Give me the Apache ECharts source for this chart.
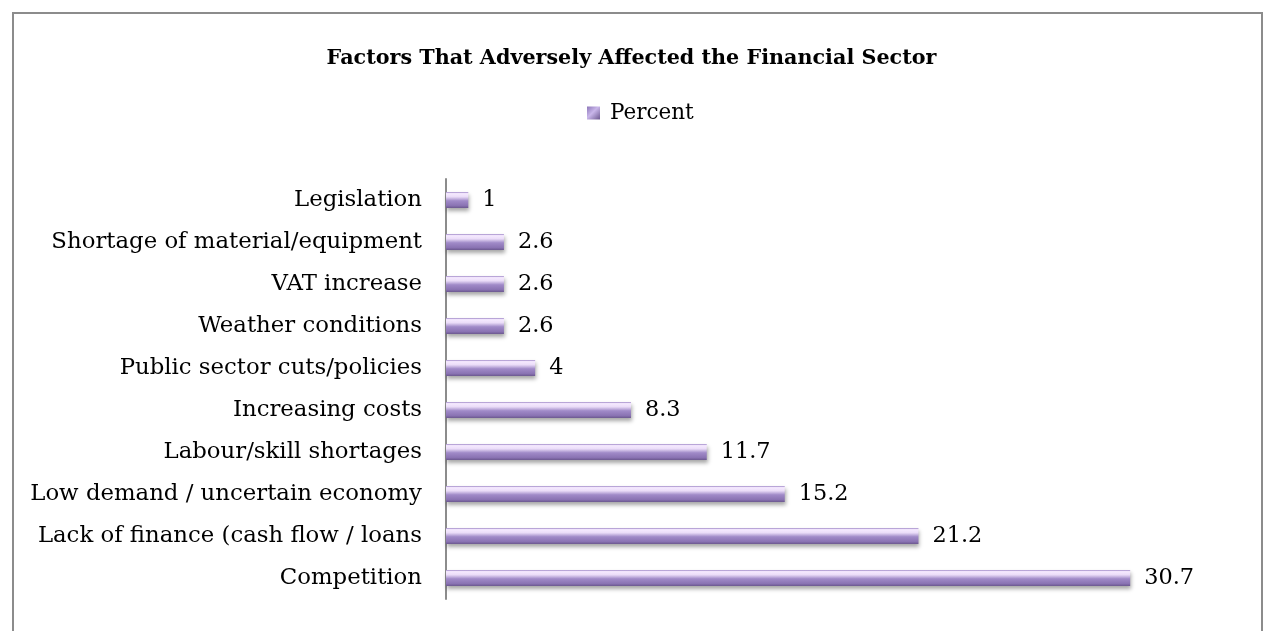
<!DOCTYPE html>
<html>
<head>
<meta charset="utf-8">
<script src="https://cdn.jsdelivr.net/npm/echarts@6/dist/echarts.min.js"></script>
<style>
html,body{margin:0;padding:0;background:#fff;overflow:hidden;}
#frame{position:absolute;left:12px;top:12px;width:1247px;height:700px;border:2px solid #8c8c8c;border-bottom:none;box-sizing:content-box;}
#chart{position:absolute;left:0;top:0;width:1263px;height:631px;}
</style>
</head>
<body>
<div id="frame"></div>
<div id="chart"></div>
<script>
const titleText = 'Factors That Adversely Affected the Financial Sector';
const seriesName = 'Percent';
const categories = [
  'Competition',
  'Lack of finance (cash flow / loans',
  'Low demand / uncertain economy',
  'Labour/skill shortages',
  'Increasing costs',
  'Public sector cuts/policies',
  'Weather conditions',
  'VAT increase',
  'Shortage of material/equipment',
  'Legislation'
];
const values = [30.7, 21.2, 15.2, 11.7, 8.3, 4, 2.6, 2.6, 2.6, 1];

const FONT = '"DejaVu Serif", serif';
const barGrad = new echarts.graphic.LinearGradient(0, 0, 0, 1, [
  {offset: 0, color: '#9d86c6'},
  {offset: 0.1, color: '#f6eaff'},
  {offset: 0.3, color: '#eadcf8'},
  {offset: 0.55, color: '#a08ac8'},
  {offset: 0.85, color: '#8a73b3'},
  {offset: 1, color: '#6c588f'}
]);
const iconGrad = new echarts.graphic.LinearGradient(0, 0, 1, 1, [
  {offset: 0, color: '#8c76b8'},
  {offset: 0.45, color: '#c9b6ea'},
  {offset: 1, color: '#6c588f'}
]);

const chart = echarts.init(document.getElementById('chart'), null, {renderer: 'canvas'});
chart.setOption({
  backgroundColor: 'transparent',
  animation: false,
  title: {
    text: titleText,
    left: 'center',
    top: 43,
    textStyle: {fontFamily: FONT, fontWeight: 'bold', fontSize: 20.7, color: '#000'}
  },
  legend: {
    data: [{name: seriesName, itemStyle: {color: iconGrad}}],
    top: 97,
    left: 582,
    icon: 'rect',
    itemWidth: 13,
    itemHeight: 13,
    itemGap: 4,
    textStyle: {fontFamily: FONT, fontSize: 21.5, color: '#000', padding: [0, 0, 0, 5]}
  },
  grid: {left: 446, top: 179, width: 780, height: 420, containLabel: false},
  xAxis: {
    type: 'value',
    min: 0,
    max: 35,
    show: false
  },
  yAxis: {
    type: 'category',
    data: categories,
    axisLine: {show: true, lineStyle: {color: '#8c8c8c', width: 2}},
    axisTick: {show: false},
    axisLabel: {fontFamily: FONT, fontSize: 22.8, color: '#000', margin: 24}
  },
  series: [{
    name: seriesName,
    type: 'bar',
    data: values,
    barWidth: 16,
    itemStyle: {
      color: barGrad,
      shadowColor: 'rgba(0,0,0,0.35)',
      shadowBlur: 4,
      shadowOffsetY: 3,
      shadowOffsetX: 1
    },
    label: {
      show: true,
      position: 'right',
      distance: 14,
      fontFamily: FONT,
      fontSize: 22.4,
      color: '#000'
    }
  }]
});
</script>
</body>
</html>
